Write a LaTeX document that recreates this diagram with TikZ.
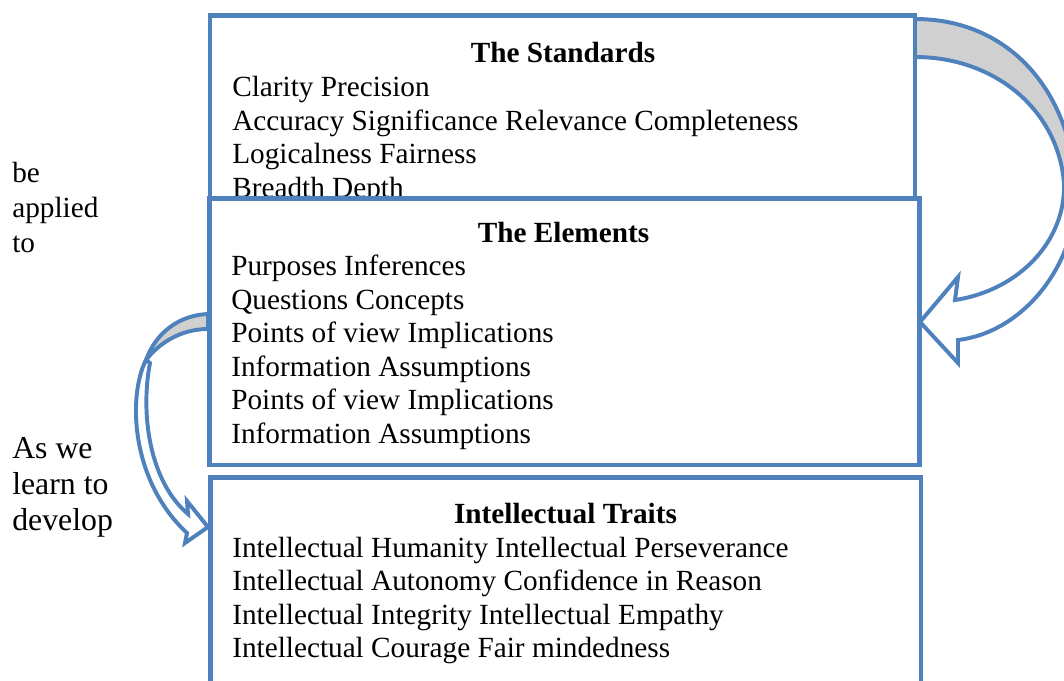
\documentclass[tikz,border=0pt]{standalone}
\usepackage{fontspec}
\setmainfont{Liberation Serif}
\definecolor{boxblue}{HTML}{4F81BD}
\definecolor{bandgray}{HTML}{D0D0D0}

\begin{document}
\begin{tikzpicture}[x=0.025cm, y=-0.025cm,
    panel/.style={draw=boxblue, line width=3.2pt, fill=white},
    band/.style={draw=boxblue, line width=2.8pt, fill=bandgray, line join=miter},
    front/.style={draw=boxblue, line width=2.8pt, fill=white, line join=miter},
    heading/.style={font=\fontsize{20.8}{23.8}\selectfont\bfseries, anchor=base, inner sep=0pt},
    itemlist/.style={font=\fontsize{20.8}{23.8}\selectfont, align=left, anchor=base west, inner sep=0pt},
    sidenote/.style={font=\fontsize{20.8}{24.6}\selectfont, align=left, anchor=base west, inner sep=0pt}]
    \useasboundingbox (0,0) rectangle (1064,680);
    \draw[panel] (210,15.5) rectangle (915,240);
    \node[itemlist] (stdlist) at (232,197) {Clarity Precision\\Accuracy Significance Relevance Completeness\\Logicalness Fairness\\Breadth Depth};
    \node[heading] (stdhead) at (563,62) {The Standards};
    \draw[panel] (209.5,198.5) rectangle (919.5,465);
    \node[heading] (elhead) at (563.5,242) {The Elements};
    \node[itemlist] (ellist) at (231,443) {Purposes Inferences\\Questions Concepts\\Points of view Implications\\Information Assumptions\\Points of view Implications\\Information Assumptions};
    \draw[panel] (210.5,477.5) rectangle (921,720);
    \node[heading] (trhead) at (565.5,523) {Intellectual Traits};
    \node[itemlist] (trlist) at (232,657.5) {Intellectual Humanity Intellectual Perseverance\\Intellectual Autonomy Confidence in Reason\\Intellectual Integrity Intellectual Empathy\\Intellectual Courage Fair mindedness};
    \node[sidenote] (applied) at (12,252) {be\\applied\\to};
    \node[sidenote, font=\fontsize{22.6}{25.3}\selectfont] (develop) at (12,530) {As we\\learn to\\develop};
    % standards -> elements
    \filldraw[band] (915,19) .. controls (1012,19) and (1072,95) .. (1076,190) -- (1064,183) .. controls (1058,110) and (995,57) .. (915,57) -- cycle;
    \filldraw[front] (1076,190) .. controls (1078,262) and (1025,332) .. (958,340) -- (958,363) -- (920,322) -- (958,277) -- (955,300) .. controls (1020,290) and (1066,240) .. (1064,183) -- cycle;
    % elements -> traits
    \filldraw[band] (208,314) .. controls (180,315) and (156,332) .. (146,360) .. controls (160,342) and (182,329) .. (208,329) -- cycle;
    \filldraw[front] (146,360) .. controls (128,395) and (130,480) .. (187,533) -- (185,543) -- (208,527) -- (187,501) -- (188,514) .. controls (150,482) and (140,415) .. (150,363) -- cycle;
\end{tikzpicture}
\end{document}
